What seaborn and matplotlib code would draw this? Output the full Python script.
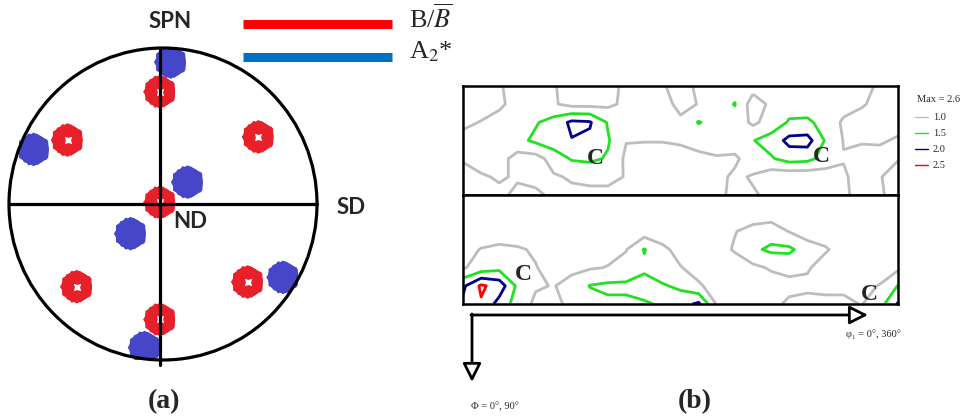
import numpy as np
import pandas as pd
import matplotlib
matplotlib.use("Agg")
import matplotlib.pyplot as plt
from matplotlib.patches import Ellipse
import seaborn as sns

#####################################################################
# (a) pole figure: cluster centres (unit circle coords)
red_x = [-0.02, -0.62, 0.62, -0.02, -0.56, 0.55, -0.02]
red_y = [0.72, 0.41, 0.43, 0.01, -0.53, -0.50, -0.74]
blue_x = [0.05, -0.84, 0.16, -0.21, 0.78, -0.12]
blue_y = [0.91, 0.35, 0.14, -0.19, -0.47, -0.92]

variant_labels = [r"B/$\overline{B}$", r"A$_2$*"]
variant_colors = ["#ff0000", "#0070c0"]
cluster_colors = {"B": "#e8202a", "A2": "#4646c8"}

#####################################################################
# (b) ODF sections, phi1 0..360 (step 15), Phi 0..90 (step 15)
phi1_deg = list(range(0, 361, 15))
Phi_deg = list(range(0, 91, 15))

odf_top = [
    [0.70, 0.70, 0.95, 1.20, 1.25, 1.05, 0.75, 0.75, 0.85, 1.10, 1.20, 1.05, 0.80, 1.10, 1.20, 1.30, 1.20, 1.20, 1.20, 1.20, 1.20, 1.15, 1.10, 0.95, 0.80],
    [0.75, 0.80, 0.90, 1.20, 1.30, 1.05, 0.85, 0.85, 0.90, 1.10, 1.25, 1.20, 0.85, 1.02, 1.30, 1.52, 0.75, 1.10, 1.30, 1.35, 1.30, 1.25, 1.05, 0.85, 0.80],
    [0.90, 1.02, 1.20, 1.30, 1.45, 1.70, 2.10, 2.05, 1.45, 1.20, 1.20, 1.20, 1.10, 1.53, 1.30, 1.30, 0.90, 1.20, 1.55, 1.55, 1.40, 0.90, 0.80, 0.80, 0.85],
    [1.15, 1.20, 1.25, 1.35, 1.60, 1.80, 1.98, 1.90, 1.55, 1.02, 1.02, 1.02, 1.05, 1.15, 1.25, 1.30, 1.48, 1.70, 2.15, 2.20, 1.45, 0.98, 0.95, 0.95, 1.05],
    [1.05, 1.20, 1.20, 0.80, 0.80, 1.20, 1.55, 1.60, 1.45, 0.90, 0.80, 0.80, 0.85, 0.90, 0.95, 0.90, 1.30, 1.45, 1.70, 1.65, 1.30, 1.02, 1.20, 1.15, 1.02],
    [0.80, 0.95, 1.05, 0.95, 0.85, 0.95, 1.05, 1.10, 1.10, 0.98, 0.85, 0.80, 0.80, 0.80, 0.85, 1.10, 0.95, 0.70, 0.65, 0.65, 0.75, 0.95, 1.15, 1.02, 0.85],
    [0.75, 0.80, 0.90, 1.10, 1.10, 0.90, 0.90, 0.90, 0.90, 0.90, 0.95, 0.90, 0.85, 0.85, 0.90, 1.10, 1.05, 0.90, 0.85, 0.85, 0.90, 0.95, 1.10, 1.05, 0.85],
]

odf_bottom = [
    [0.75, 0.75, 0.75, 0.75, 0.75, 0.75, 0.75, 0.75, 0.75, 0.75, 0.75, 0.75, 0.75, 0.75, 0.75, 0.75, 0.75, 0.75, 0.75, 0.75, 0.75, 0.75, 0.75, 0.75, 0.75],
    [0.75, 0.75, 0.75, 0.75, 0.75, 0.75, 0.75, 0.75, 0.75, 0.75, 0.75, 0.75, 0.75, 0.75, 0.75, 0.75, 0.75, 0.75, 0.75, 0.75, 0.75, 0.75, 0.75, 0.75, 0.75],
    [0.75, 0.75, 0.75, 0.75, 0.75, 0.75, 0.75, 0.75, 0.75, 0.75, 0.75, 0.75, 0.75, 0.75, 0.75, 0.98, 1.15, 1.25, 0.98, 0.75, 0.75, 0.75, 0.75, 0.75, 0.75],
    [0.85, 1.02, 1.10, 1.05, 0.95, 0.75, 0.75, 0.80, 0.85, 0.98, 1.53, 1.10, 0.85, 0.75, 0.80, 1.05, 1.40, 1.60, 1.60, 1.25, 1.05, 0.80, 0.75, 0.75, 0.75],
    [0.95, 1.20, 1.35, 1.20, 1.02, 0.85, 0.90, 0.95, 1.02, 1.15, 1.40, 1.20, 1.02, 0.85, 0.75, 0.75, 0.90, 1.05, 1.15, 1.05, 0.80, 0.75, 0.75, 0.80, 0.90],
    [1.90, 2.58, 2.30, 1.40, 1.05, 0.98, 1.15, 1.52, 1.60, 1.60, 1.70, 1.55, 1.40, 1.05, 0.85, 0.75, 0.75, 0.80, 0.85, 0.90, 0.90, 0.90, 0.90, 1.02, 1.52],
    [2.10, 2.45, 1.80, 1.30, 0.90, 0.90, 1.10, 1.30, 1.40, 1.40, 1.45, 1.55, 1.80, 2.10, 0.95, 0.80, 0.80, 0.85, 1.10, 1.15, 1.10, 1.10, 0.98, 1.30, 2.05],
]

levels = [1.0, 1.5, 2.0, 2.5]
level_colors = ["#bdbdbd", "#22e022", "#00008b", "#ff0000"]
odf_max = 2.6

#####################################################################
sns.set_theme(style="white")
plt.rcParams["font.family"] = ["Liberation Serif", "DejaVu Serif"]
plt.rcParams["mathtext.fontset"] = "stix"

W, H = 962, 420
fig = plt.figure(figsize=(W / 100, H / 100), dpi=100)


def px_axes(left, top, width, height):
    return fig.add_axes([left / W, 1 - (top + height) / H, width / W, height / H])


# --- (a) pole figure
ax_a = px_axes(9, 48, 308, 312)
ax_a.set_xlim(-1, 1)
ax_a.set_ylim(-1, 1)
ax_a.axis("off")
rim = Ellipse((0, 0), 2, 2, fill=False, lw=2.3, ec="black", zorder=5)
rim.set_clip_on(False)
ax_a.add_patch(rim)
ax_a.plot([-1, 1], [0, 0], color="black", lw=2.3, zorder=5, clip_on=False)
ax_a.plot([-0.02, -0.02], [1, -1.03], color="black", lw=2.3, zorder=5, clip_on=False)

poles = pd.concat([
    pd.DataFrame({"x": red_x, "y": red_y, "variant": "B"}),
    pd.DataFrame({"x": blue_x, "y": blue_y, "variant": "A2"}),
], ignore_index=True)

# lumpy clusters: a few rotated polygons stacked on a round core
for mk, size in [("o", 480), ((6, 0, 0), 590), ((5, 0, 18), 590), ((7, 0, 40), 540)]:
    sns.scatterplot(data=poles, x="x", y="y", hue="variant", palette=cluster_colors,
                    marker=mk, s=size, linewidth=0, legend=False, ax=ax_a, zorder=3)
sns.scatterplot(data=poles[poles["variant"] == "B"], x="x", y="y", color="white",
                marker=(4, 1, 45), s=55, linewidth=0, legend=False, ax=ax_a, zorder=4)
ax_a.set_xlabel("")
ax_a.set_ylabel("")

# --- (b) ODF sections
sections = [(86, odf_top), (195, odf_bottom)]
for top, z in sections:
    ax = px_axes(463, top, 435, 109)
    ax.contour(phi1_deg, Phi_deg, np.array(z), levels=levels, colors=level_colors,
               linewidths=2.0)
    ax.set_xlim(0, 360)
    ax.set_ylim(90, 0)
    ax.set_xticks([])
    ax.set_yticks([])
    for s in ax.spines.values():
        s.set_visible(True)
        s.set_color("black")
        s.set_linewidth(1.8)

# --- overlay for labels, legend and arrows (pixel coords)
ov = fig.add_axes([0, 0, 1, 1], facecolor="none")
ov.set_xlim(0, W)
ov.set_ylim(H, 0)
ov.axis("off")

sans = {"family": ["Lato", "DejaVu Sans"], "weight": "bold", "size": 16}
ov.text(170, 21, "SPN", ha="center", va="center", fontdict=sans)
ov.text(351, 208, "SD", ha="center", va="center", fontdict=sans)
ov.text(190, 222, "ND", ha="center", va="center", fontdict=sans)

for i, (lab, col) in enumerate(zip(variant_labels, variant_colors)):
    yy = 23.5 + 33 * i
    ov.plot([243, 392], [yy, yy], color=col, lw=6.5, solid_capstyle="butt")
    ov.text(409, 28 + 30 * i, lab, ha="left", va="baseline", fontsize=19)

ov.text(164, 402, "(a)", ha="center", va="center", fontsize=20, fontweight="bold")
ov.text(695, 402, "(b)", ha="center", va="center", fontsize=20, fontweight="bold")

c_marks = [(595, 158), (821, 156), (523, 274), (869, 294)]
for cx, cy in c_marks:
    ov.text(cx, cy, "C", ha="center", va="center", fontsize=17, fontweight="bold")

# contour legend
ov.text(917, 99, f"Max = {odf_max}", ha="left", va="center", fontsize=7.5)
for i, (lv, col) in enumerate(zip(levels, level_colors)):
    yy = 117 + 16 * i
    ov.plot([915, 928], [yy, yy], color=col, lw=1.0)
    ov.text(933, yy, f"{lv:.1f}", ha="left", va="center", fontsize=7.5)

# axis arrows
arrow = dict(arrowstyle="-|>,head_length=0.8,head_width=0.4", lw=2, ec="black",
             fc="white", shrinkA=0, shrinkB=0, mutation_scale=14)
ov.annotate("", xy=(868, 315), xytext=(471, 315), arrowprops=arrow)
ov.annotate("", xy=(472, 382), xytext=(472, 314), arrowprops=arrow)
ov.text(873, 334, "\u03c6\u2081 = 0\u00b0, 360\u00b0", ha="center", va="center", fontsize=7.5)
ov.text(495, 407, "\u03a6 = 0\u00b0, 90\u00b0", ha="center", va="center", fontsize=7.5)

fig.savefig("out.png", dpi=100)
